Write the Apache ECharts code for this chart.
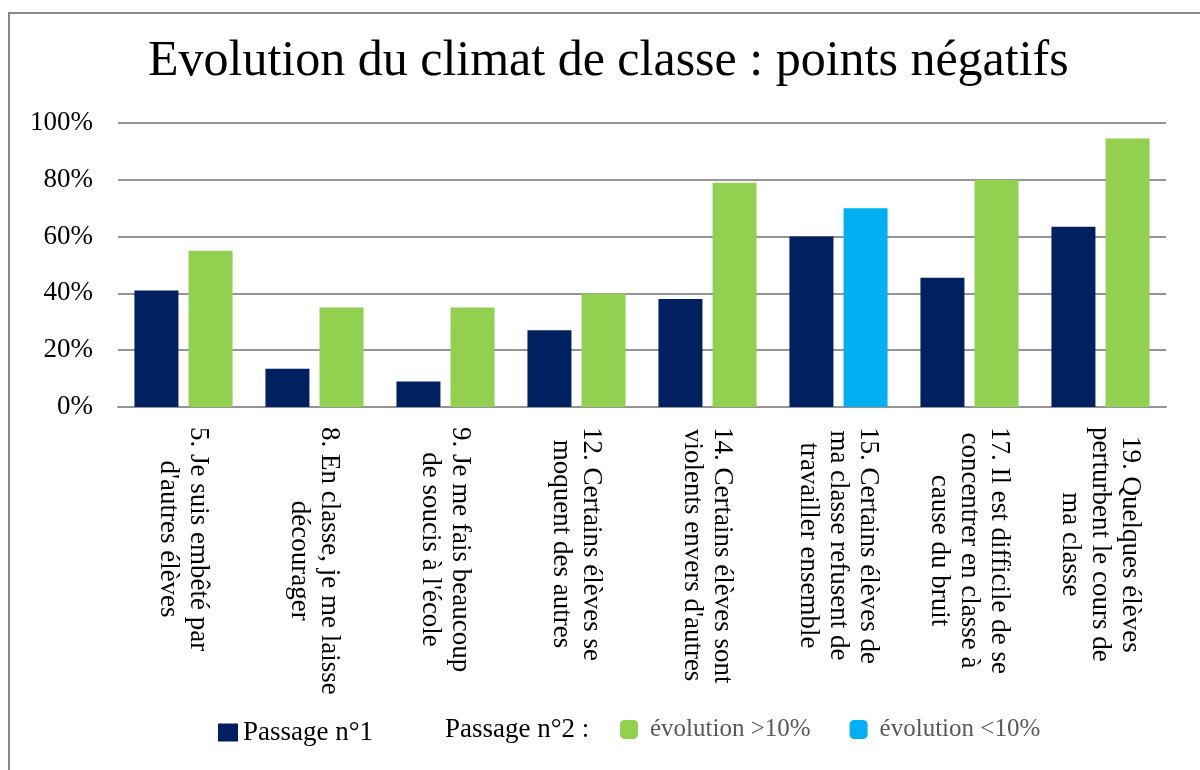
<!DOCTYPE html>
<html>
<head>
<meta charset="utf-8">
<script src="https://cdn.jsdelivr.net/npm/echarts@6/dist/echarts.min.js"></script>
<style>
  html, body { margin: 0; padding: 0; background: #ffffff; }
  #chart { width: 1200px; height: 770px; }
</style>
</head>
<body>
<div id="chart"></div>
<script>
const SERIF = '"Liberation Serif", "Times New Roman", serif';

// Questions (axis categories)
const questions = [
  "5. Je suis embêté par\nd'autres élèves",
  "8. En classe, je me laisse\ndécourager",
  "9. Je me fais beaucoup\nde soucis à l'école",
  "12. Certains élèves se\nmoquent des autres",
  "14. Certains élèves sont\nviolents envers d'autres",
  "15. Certains élèves de\nma classe refusent de\ntravailler ensemble",
  "17. Il est difficile de se\nconcentrer en classe à\ncause du bruit",
  "19. Quelques élèves\nperturbent le cours de\nma classe"
];

// % of pupils
const passage1 = [41, 13.5, 9, 27, 38, 60, 45.5, 63.5];
const passage2 = [55, 35, 35, 40, 79, 70, 80, 94.5];
// true where the evolution between the two passages is under 10%
const faibleEvolution = [false, false, false, false, false, true, false, false];

const yTicks = [0, 20, 40, 60, 80, 100];

const NAVY = '#002060';
const GREEN = '#92D050';
const BLUE = '#00B0F0';

const chart = echarts.init(document.getElementById('chart'));

const forte = passage2.map((v, i) => (faibleEvolution[i] ? '-' : v));
const faible = passage2.map((v, i) => (faibleEvolution[i] ? v : '-'));

const options = {
  animation: false,
  backgroundColor: '#ffffff',
  title: {
    text: 'Evolution du climat de classe : points négatifs',
    left: 148,
    top: 37,
    padding: 0,
    textStyle: { fontFamily: SERIF, fontSize: 50, fontWeight: 'normal', color: '#000000' }
  },
  graphic: [
    {
      type: 'rect',
      silent: true,
      shape: { x: 9, y: 13, width: 1400, height: 1000 },
      style: { fill: 'none', stroke: '#878787', lineWidth: 2 }
    },
    {
      type: 'text',
      left: 445,
      top: 716,
      style: { text: 'Passage n°2 :', font: '27px ' + SERIF, fill: '#000000' }
    }
  ],
  legend: [
    {
      data: ['Passage n°1'],
      left: 218,
      top: 719,
      padding: 0,
      itemWidth: 20,
      itemHeight: 18,
      icon: 'rect',
      textStyle: { fontFamily: SERIF, fontSize: 27, color: '#000000' }
    },
    {
      data: ['évolution >10%', 'évolution <10%'],
      left: 620,
      top: 717,
      padding: 0,
      itemWidth: 18,
      itemHeight: 19,
      itemGap: 39,
      icon: 'roundRect',
      textStyle: { fontFamily: SERIF, fontSize: 25, color: '#595959', padding: [0, 0, 0, 7] }
    }
  ],
  grid: { left: 118, right: 34, top: 123, bottom: 363, containLabel: false },
  xAxis: {
    type: 'category',
    data: questions,
    axisLine: { show: true, lineStyle: { color: '#959595', width: 2 } },
    axisTick: { show: false },
    axisLabel: {
      interval: 0,
      rotate: -90,
      margin: 20,
      color: '#000000',
      fontFamily: SERIF,
      fontSize: 27,
      lineHeight: 30,
      formatter: (v) => v.split('\n').map((l) => '{c|' + l + '}').join('\n'),
      rich: {
        c: { align: 'center', fontFamily: SERIF, fontSize: 27, lineHeight: 30, color: '#000000' }
      }
    }
  },
  yAxis: {
    type: 'value',
    min: yTicks[0],
    max: yTicks[yTicks.length - 1],
    interval: 20,
    axisLine: { show: false },
    axisTick: { show: false },
    splitLine: { lineStyle: { color: '#959595', width: 2 } },
    axisLabel: {
      margin: 25,
      color: '#000000',
      fontFamily: SERIF,
      fontSize: 27,
      formatter: '{value}%'
    }
  },
  series: [
    {
      name: 'Passage n°1',
      type: 'bar',
      barWidth: 44,
      barGap: '23%',
      itemStyle: { color: NAVY },
      data: passage1
    },
    {
      name: 'évolution >10%',
      type: 'bar',
      stack: 'passage2',
      barWidth: 44,
      itemStyle: { color: GREEN },
      data: forte
    },
    {
      name: 'évolution <10%',
      type: 'bar',
      stack: 'passage2',
      barWidth: 44,
      itemStyle: { color: BLUE },
      data: faible
    }
  ]
};

chart.setOption(options);
</script>
</body>
</html>
